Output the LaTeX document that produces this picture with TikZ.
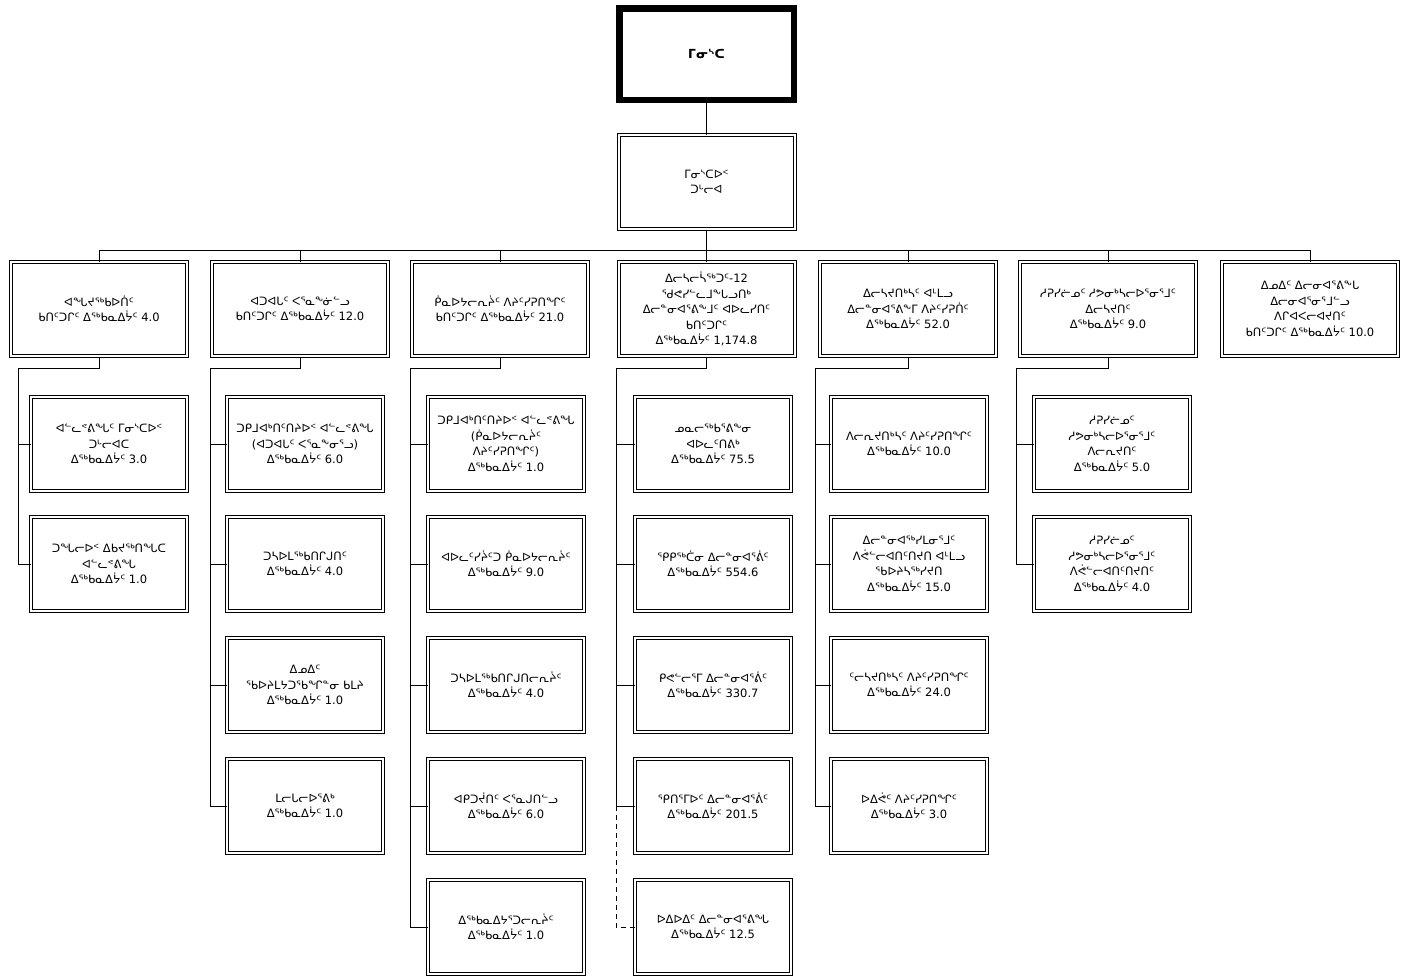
\documentclass[tikz,border=0pt]{standalone}
\usepackage{fontspec}
\setmainfont{DejaVu Sans}

\begin{document}
\begin{tikzpicture}[x=1pt,y=-1pt,
		unitbox/.style={draw,double,line width=1pt,double distance=2pt,minimum width=176pt,minimum height=94pt,align=center,inner sep=1pt,font=\fontsize{11.5}{15.5}\selectfont},
		subbox/.style={unitbox,minimum width=156pt},
		link/.style={line width=1pt}]

		\useasboundingbox[fill=white] (0,0) rectangle (1410,978);

		\node[draw,line width=6.5pt,minimum width=174.5pt,minimum height=91.5pt,font=\bfseries\fontsize{12.5}{15}\selectfont] (min) at (706.5,54) {ᒥᓂᔅᑕ};
		\node[unitbox] (dm) at (706.5,182) {ᒥᓂᔅᑕᐅᑉ\\ᑐᒡᓕᐊ};

		\coordinate (bus) at (706.5,250);

		\node[unitbox] (h1) at (99,309) {ᐊᖓᔪᖅᑲᐅᑏᑦ\\ᑲᑎᑦᑐᒋᑦ ᐃᖅᑲᓇᐃᔮᑦ 4.0};
		\node[unitbox] (h2) at (300,309) {ᐊᑐᐊᒐᑦ ᐸᕐᓇᖕᓃᓪᓗ\\ᑲᑎᑦᑐᒋᑦ ᐃᖅᑲᓇᐃᔮᑦ 12.0};
		\node[unitbox] (h3) at (500,309) {ᑮᓇᐅᔭᓕᕆᔩᑦ ᐱᔨᑦᓯᕈᑎᖏᑦ\\ᑲᑎᑦᑐᒋᑦ ᐃᖅᑲᓇᐃᔮᑦ 21.0};
		\node[unitbox] (h4) at (706.5,309) {ᐃᓕᓴᓕᓵᖅᑐᑦ-12\\ᖁᕙᓯᓪᓚᒧᖕᒐᓗᑎᒃ\\ᐃᓕᓐᓂᐊᕐᕕᖕᒧᑦ ᐊᐅᓚᓯᑎᑦ\\ᑲᑎᑦᑐᒋᑦ\\ᐃᖅᑲᓇᐃᔮᑦ 1,174.8};
		\node[unitbox] (h5) at (908,309) {ᐃᓕᓴᔪᑎᒃᓴᑦ ᐊᒻᒪᓗ\\ᐃᓕᓐᓂᐊᕐᕕᖕᒥ ᐱᔨᑦᓯᕈᑏᑦ\\ᐃᖅᑲᓇᐃᔮᑦ 52.0};
		\node[unitbox] (h6) at (1108,309) {ᓱᕈᓯᓖᓄᑦ ᓱᕗᓂᒃᓴᓕᐅᕐᓂᕐᒧᑦ\\ᐃᓕᓴᔪᑎᑦ\\ᐃᖅᑲᓇᐃᔮᑦ 9.0};
		\node[unitbox] (h7) at (1310,309) {ᐃᓄᐃᑦ ᐃᓕᓂᐊᕐᕕᖕᒐ\\ᐃᓕᓂᐊᕐᓂᕐᒧᓪᓗ\\ᐱᒋᐊᐸᓕᐊᔪᑎᑦ\\ᑲᑎᑦᑐᒋᑦ ᐃᖅᑲᓇᐃᔮᑦ 10.0};

		\node[subbox] (c11) at (109,444) {ᐊᓪᓚᕝᕕᖓᑦ ᒥᓂᔅᑕᐅᑉ\\ᑐᒡᓕᐊᑕ\\ᐃᖅᑲᓇᐃᔮᑦ 3.0};
		\node[subbox] (c12) at (109,564) {ᑐᖓᓕᐅᑉ ᐃᑲᔪᖅᑎᖓᑕ\\ᐊᓪᓚᕝᕕᖓ\\ᐃᖅᑲᓇᐃᔮᑦ 1.0};

		\node[subbox] (c21) at (305,444) {ᑐᑭᒧᐊᒃᑎᑦᑎᔨᐅᑉ ᐊᓪᓚᕝᕕᖓ\\(ᐊᑐᐊᒐᑦ ᐸᕐᓇᖕᓂᕐᓗ)\\ᐃᖅᑲᓇᐃᔮᑦ 6.0};
		\node[subbox] (c22) at (305,564) {ᑐᓴᐅᒪᖅᑲᑎᒋᒍᑎᑦ\\ᐃᖅᑲᓇᐃᔮᑦ 4.0};
		\node[subbox] (c23) at (305,685) {ᐃᓄᐃᑦ\\ᖃᐅᔨᒪᔭᑐᖃᖏᓐᓂ ᑲᒪᔨ\\ᐃᖅᑲᓇᐃᔮᑦ 1.0};
		\node[subbox] (c24) at (305,806) {ᒪᓕᒐᓕᐅᕐᕕᒃ\\ᐃᖅᑲᓇᐃᔮᑦ 1.0};

		\node[subbox] (c31) at (506,444) {ᑐᑭᒧᐊᒃᑎᑦᑎᔨᐅᑉ ᐊᓪᓚᕝᕕᖓ\\(ᑮᓇᐅᔭᓕᕆᔩᑦ\\ᐱᔨᑦᓯᕈᑎᖏᑦ)\\ᐃᖅᑲᓇᐃᔮᑦ 1.0};
		\node[subbox] (c32) at (506,564) {ᐊᐅᓚᑦᓯᔩᑦᑐ ᑮᓇᐅᔭᓕᕆᔩᑦ\\ᐃᖅᑲᓇᐃᔮᑦ 9.0};
		\node[subbox] (c33) at (506,685) {ᑐᓴᐅᒪᖅᑲᑎᒋᒍᑎᓕᕆᔩᑦ\\ᐃᖅᑲᓇᐃᔮᑦ 4.0};
		\node[subbox] (c34) at (506,806) {ᐊᑭᑐᔫᑎᑦ ᐸᕐᓇᒍᑎᓪᓗ\\ᐃᖅᑲᓇᐃᔮᑦ 6.0};
		\node[subbox] (c35) at (506,927) {ᐃᖅᑲᓇᐃᔭᕐᑐᓕᕆᔩᑦ\\ᐃᖅᑲᓇᐃᔮᑦ 1.0};

		\node[subbox] (c41) at (713,444) {ᓄᓇᓕᖅᑲᕐᕕᖕᓂ\\ᐊᐅᓚᑦᑎᕕᒃ\\ᐃᖅᑲᓇᐃᔮᑦ 75.5};
		\node[subbox] (c42) at (713,564) {ᕿᑭᖅᑖᓂ ᐃᓕᓐᓂᐊᕐᕖᑦ\\ᐃᖅᑲᓇᐃᔮᑦ 554.6};
		\node[subbox] (c43) at (713,685) {ᑭᕙᓪᓕᕐᒥ ᐃᓕᓐᓂᐊᕐᕖᑦ\\ᐃᖅᑲᓇᐃᔮᑦ 330.7};
		\node[subbox] (c44) at (713,806) {ᕿᑎᕐᒥᐅᑦ ᐃᓕᓐᓂᐊᕐᕖᑦ\\ᐃᖅᑲᓇᐃᔮᑦ 201.5};
		\node[subbox] (c45) at (713,927) {ᐅᐃᐅᐃᑦ ᐃᓕᓐᓂᐊᕐᕕᖓ\\ᐃᖅᑲᓇᐃᔮᑦ 12.5};

		\node[subbox] (c51) at (909,444) {ᐱᓕᕆᔪᑎᒃᓴᑦ ᐱᔨᑦᓯᕈᑎᖏᑦ\\ᐃᖅᑲᓇᐃᔮᑦ 10.0};
		\node[subbox] (c52) at (909,564) {ᐃᓕᓐᓂᐊᖅᓯᒪᓂᕐᒧᑦ\\ᐱᕚᓪᓕᐊᑎᑦᑎᔪᑎ ᐊᒻᒪᓗ\\ᖃᐅᔨᓴᖅᓯᔪᑎ\\ᐃᖅᑲᓇᐃᔮᑦ 15.0};
		\node[subbox] (c53) at (909,685) {ᑦᓕᓴᔪᑎᒃᓴᑦ ᐱᔨᑦᓯᕈᑎᖏᑦ\\ᐃᖅᑲᓇᐃᔮᑦ 24.0};
		\node[subbox] (c54) at (909,806) {ᐅᐃᕚᑦ ᐱᔨᑦᓯᕈᑎᖏᑦ\\ᐃᖅᑲᓇᐃᔮᑦ 3.0};

		\node[subbox] (c61) at (1112,444) {ᓱᕈᓯᓖᓄᑦ\\ᓱᕗᓂᒃᓴᓕᐅᕐᓂᕐᒧᑦ\\ᐱᓕᕆᔪᑎᑦ\\ᐃᖅᑲᓇᐃᔮᑦ 5.0};
		\node[subbox] (c62) at (1112,564) {ᓱᕈᓯᓖᓄᑦ\\ᓱᕗᓂᒃᓴᓕᐅᕐᓂᕐᒧᑦ\\ᐱᕚᓪᓕᐊᑎᑦᑎᔪᑎᑦ\\ᐃᖅᑲᓇᐃᔮᑦ 4.0};

		\draw[link] (min) -- (dm);
		\draw[link] (dm) -- (bus);

		\draw[link] (h1.north) |- (bus);
		\draw[link] (h2.north) |- (bus);
		\draw[link] (h3.north) |- (bus);
		\draw[link] (h4.north) -- (bus);
		\draw[link] (h5.north) |- (bus);
		\draw[link] (h6.north) |- (bus);
		\draw[link] (h7.north) |- (bus);

		\coordinate (s1) at (18,368);
		\coordinate (s2) at (210,368);
		\coordinate (s3) at (410,368);
		\coordinate (s4) at (616,368);
		\coordinate (s5) at (815,368);
		\coordinate (s6) at (1016,368);

			\draw[link] (h1.south) |- (s1) |- (c11.west);
			\draw[link] (s1) |- (c12.west);

			\draw[link] (h2.south) |- (s2) |- (c21.west);
			\draw[link] (s2) |- (c22.west);
			\draw[link] (s2) |- (c23.west);
			\draw[link] (s2) |- (c24.west);

			\draw[link] (h3.south) |- (s3) |- (c31.west);
			\draw[link] (s3) |- (c32.west);
			\draw[link] (s3) |- (c33.west);
			\draw[link] (s3) |- (c34.west);
			\draw[link] (s3) |- (c35.west);

			\draw[link] (h4.south) |- (s4) |- (c41.west);
			\draw[link] (s4) |- (c42.west);
			\draw[link] (s4) |- (c43.west);
			\draw[link] (s4) |- (c44.west);
			\draw[link,dash pattern=on 5pt off 4pt] (s4 |- c44.west) |- (c45.west);

			\draw[link] (h5.south) |- (s5) |- (c51.west);
			\draw[link] (s5) |- (c52.west);
			\draw[link] (s5) |- (c53.west);
			\draw[link] (s5) |- (c54.west);

			\draw[link] (h6.south) |- (s6) |- (c61.west);
			\draw[link] (s6) |- (c62.west);

\end{tikzpicture}
\end{document}
